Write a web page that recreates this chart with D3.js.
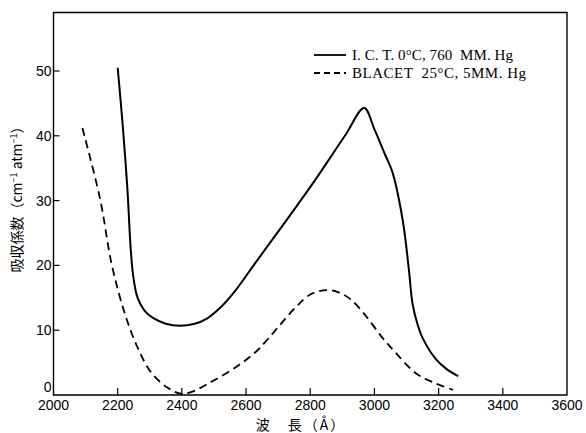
<!DOCTYPE html>
<html>
<head>
<meta charset="utf-8">
<script src="https://d3js.org/d3.v7.min.js"></script>
<style>
  body { margin: 0; background: #fff; }
</style>
</head>
<body>
<div id="my_dataviz"></div>
<script>
var width = 586
var height = 433

// I.C.T. 0°C, 760 MM.Hg  (solid)
var ictWave = [2200, 2215, 2230, 2240, 2248, 2262, 2284, 2310, 2350, 2393, 2440, 2478, 2520, 2568, 2629, 2700, 2803, 2908, 2968, 3000, 3034, 3056, 3088, 3107, 3119, 3135, 3151, 3192, 3225, 3261]
var ictCoef = [50.5, 42, 32, 23, 18.5, 15, 13, 11.9, 11, 10.7, 11, 11.8, 13.5, 16.2, 20.4, 25.2, 32.3, 40, 44.3, 41, 37, 34.4, 27, 19.5, 14, 10.8, 8.7, 5.5, 4, 2.9]

// BLACET 25°C, 5MM.Hg  (dashed)
var blacetWave = [2090, 2145, 2182, 2224, 2264, 2304, 2356, 2396, 2426, 2487, 2568, 2629, 2669, 2752, 2800, 2853, 2890, 2925, 2970, 3024, 3065, 3128, 3190, 3245]
var blacetCoef = [41.2, 30.3, 20, 12.3, 7.1, 3.5, 1.1, 0.2, 0.4, 1.9, 4.3, 6.6, 8.7, 13.4, 15.5, 16.2, 15.8, 14.8, 12.4, 8.9, 6.6, 3.4, 1.8, 0.8]

var xTicks = [2000, 2200, 2400, 2600, 2800, 3000, 3200, 3400, 3600]
var yTicks = [0, 10, 20, 30, 40, 50]

var svg = d3.select("#my_dataviz")
  .append("svg")
    .attr("width", width)
    .attr("height", height)
    .style("font-family", "'Liberation Sans', Arial, sans-serif")

var x = d3.scaleLinear().domain([2000, 3600]).range([53.5, 567])
var y = d3.scaleLinear().domain([0, 50]).range([395, 71])
var frameTop = 12.5

// frame
svg.append("path")
  .attr("d", "M" + x(2000) + "," + y(0) + "V" + frameTop + "H" + x(3600) + "V" + y(0) + "Z")
  .attr("fill", "none")
  .attr("stroke", "#000")
  .attr("stroke-width", 1.4)

// x ticks (inward) + labels
svg.selectAll(".xt")
  .data(xTicks.filter(function(d){ return d > 2000 && d < 3600 }))
  .enter().append("line")
    .attr("x1", function(d){ return x(d) })
    .attr("x2", function(d){ return x(d) })
    .attr("y1", y(0))
    .attr("y2", y(0) - 7)
    .attr("stroke", "#000")
    .attr("stroke-width", 1.2)

svg.selectAll(".xl")
  .data(xTicks)
  .enter().append("text")
    .attr("x", function(d){ return x(d) })
    .attr("y", y(0) + 15)
    .attr("text-anchor", "middle")
    .attr("font-size", 14)
    .text(function(d){ return d })

// y ticks (inward) + labels
svg.selectAll(".yt")
  .data(yTicks.filter(function(d){ return d > 0 }))
  .enter().append("line")
    .attr("x1", x(2000))
    .attr("x2", x(2000) + 6)
    .attr("y1", function(d){ return y(d) })
    .attr("y2", function(d){ return y(d) })
    .attr("stroke", "#000")
    .attr("stroke-width", 1.2)

svg.selectAll(".yl")
  .data(yTicks)
  .enter().append("text")
    .attr("x", x(2000) - 2)
    .attr("y", function(d){ return d == 0 ? y(d) - 3 : y(d) + 5 })
    .attr("text-anchor", "end")
    .attr("font-size", 14)
    .text(function(d){ return d })

// axis titles
svg.append("text")
  .attr("x", 301)
  .attr("y", 430)
  .attr("text-anchor", "middle")
  .attr("font-family", "'Noto Sans CJK JP', sans-serif")
  .attr("font-size", 14)
  .style("letter-spacing", "2px")
  .text("波　長（Å）")

var yt = svg.append("text")
  .attr("transform", "translate(22,196) rotate(-90)")
  .attr("text-anchor", "middle")
  .attr("font-family", "'Noto Sans CJK JP', sans-serif")
  .attr("font-size", 14)
yt.append("tspan").text("吸収係数（cm")
yt.append("tspan").attr("dy", -5).attr("font-size", 9).text("−1")
yt.append("tspan").attr("dy", 5).text(" atm")
yt.append("tspan").attr("dy", -5).attr("font-size", 9).text("−1")
yt.append("tspan").attr("dy", 5).text("）")

// curves
var ict = ictWave.map(function(d, i){ return [d, ictCoef[i]] })
var blacet = blacetWave.map(function(d, i){ return [d, blacetCoef[i]] })

var line = d3.line()
  .x(function(d){ return x(d[0]) })
  .y(function(d){ return y(d[1]) })
  .curve(d3.curveCatmullRom.alpha(0.5))

svg.append("path")
  .attr("d", line(ict))
  .attr("fill", "none")
  .attr("stroke", "#000")
  .attr("stroke-width", 2)

svg.append("path")
  .attr("d", line(blacet))
  .attr("fill", "none")
  .attr("stroke", "#000")
  .attr("stroke-width", 1.8)
  .attr("stroke-dasharray", "8,5")

// legend
var legend = [
  { label: "I. C. T. 0°C, 760  MM. Hg", dash: null, len: 161 },
  { label: "BLACET  25°C, 5MM. Hg", dash: "6,4", len: 174 }
]
var lg = svg.selectAll(".lg")
  .data(legend)
  .enter().append("g")
    .attr("transform", function(d, i){ return "translate(314," + (55 + i * 18) + ")" })
lg.append("line")
  .attr("x1", 0).attr("x2", 32)
  .attr("stroke", "#000")
  .attr("stroke-width", 1.8)
  .attr("stroke-dasharray", function(d){ return d.dash })
lg.append("text")
  .attr("x", 38)
  .attr("y", 5)
  .attr("font-family", "'Liberation Serif', 'DejaVu Serif', serif")
  .attr("font-size", 15)
  .attr("textLength", function(d){ return d.len })
  .attr("lengthAdjust", "spacing")
  .style("white-space", "pre")
  .text(function(d){ return d.label })
</script>
</body>
</html>
